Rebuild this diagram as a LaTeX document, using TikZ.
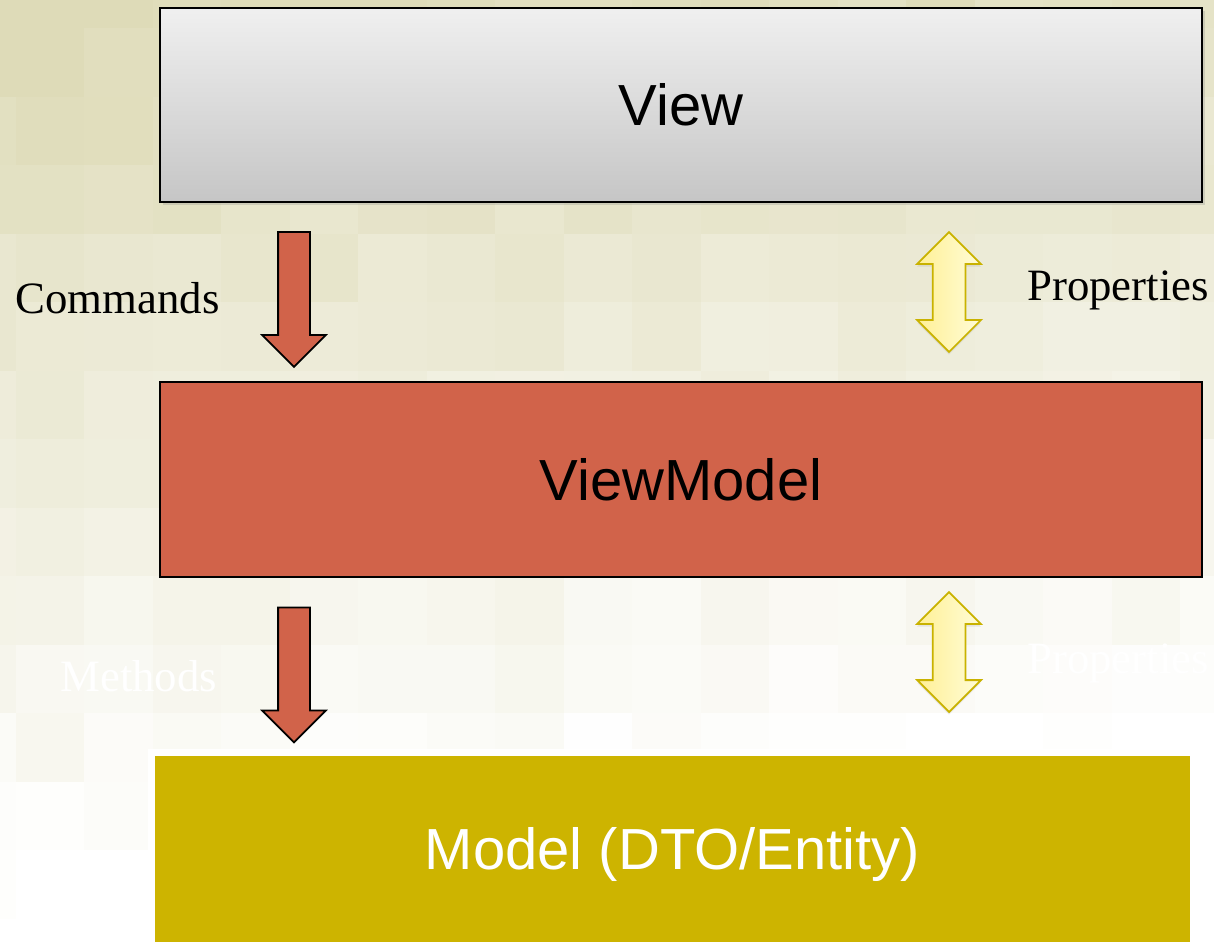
\documentclass[tikz,border=0pt]{standalone}
\usepackage{fontspec}
\setmainfont{Liberation Serif}
\newfontfamily\boxfont{Liberation Sans}
\usetikzlibrary{shapes.arrows,shadows}

\definecolor{tilebeige}{RGB}{222,219,184}
\definecolor{vmred}{RGB}{209,99,74}
\definecolor{modelgold}{RGB}{205,180,0}
\definecolor{syncedge}{RGB}{201,178,0}
\definecolor{synclight}{RGB}{255,252,215}
\definecolor{syncdark}{RGB}{255,240,150}

\begin{document}
\begin{tikzpicture}[x=0.02cm, y=-0.02cm,
        layer/.style={rectangle, draw=black, line width=1.2pt, minimum width=20.84cm, minimum height=3.88cm, text height=23.6pt, text depth=0pt, inner sep=0pt, font=\boxfont\fontsize{33}{38}\selectfont},
        push/.style={single arrow, draw=black, line width=1pt, fill=vmred, minimum height=2.7cm, single arrow head extend=0.32cm, inner xsep=0pt, inner ysep=0.3cm, rotate=-90},
        sync/.style={double arrow, draw=syncedge, line width=1pt, left color=syncdark, right color=synclight, minimum height=2.4cm, double arrow head extend=0.31cm, inner xsep=0pt, inner ysep=0.31cm, rotate=90, drop shadow={opacity=0.15, shadow xshift=0pt, shadow yshift=-1.5pt}},
        tag/.style={anchor=base west, inner sep=0pt, font=\fontsize{25.5}{30}\selectfont}
    ]
        \useasboundingbox (0,0) rectangle (1214,947);

        % tiled background
        \begin{scope}
            \clip (0,0) rectangle (1214,947);
            \fill[white] (0,0) rectangle (1214,947);
            \pgfmathsetseed{11}
            \foreach \i in {-1,...,17}{
                \foreach \j in {-1,...,13}{
                    \pgfmathsetmacro{\tint}{max(0,min(100, 100 - 112*((28+68.5*\j)/947) - 20*((15.5+68.5*\i)/1214) + 16*rnd - 8))}
                    \fill[tilebeige!\tint!white] (15.5+68.5*\i, 28+68.5*\j) rectangle +(68.5,68.5);
                }
            }
        \end{scope}

        \node[layer, top color=gray!12, bottom color=gray!45, drop shadow={opacity=0.25, shadow xshift=1.5pt, shadow yshift=-1.5pt}] (view) at (681,105) {View};
        \node[layer, fill=vmred, minimum height=3.9cm] (viewmodel) at (681,479.5) {ViewModel};
        \node[layer, draw=white, line width=4pt, fill=modelgold, text=white, drop shadow={opacity=0.15, shadow xshift=-1pt, shadow yshift=0pt}] (model) at (672.5,849) {Model (DTO/Entity)};

        \node[push] (commands) at (294,291.5) {};
        \node[push] (methods) at (294,667) {};
        \node[sync] (propsup) at (949,292) {};
        \node[sync] (propsdown) at (949,652) {};

        \node[tag] (commandslabel) at (15,313) {Commands};
        \node[tag] (propsuplabel) at (1027,300) {Properties};
        \node[tag, text=white] (methodslabel) at (60,691) {Methods};
        \node[tag, text=white] (propsdownlabel) at (1027,673) {Properties};
    \end{tikzpicture}
\end{document}
